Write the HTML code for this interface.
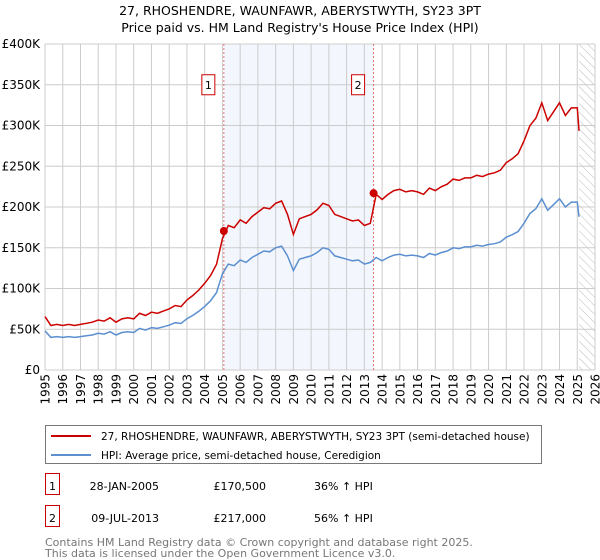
<!DOCTYPE html>
<html><head><meta charset="utf-8"><style>
body{margin:0;background:#fff;font-family:"DejaVu Sans","Liberation Sans",sans-serif;}
#wrap{position:relative;width:600px;height:560px;overflow:hidden}
</style></head><body><div id="wrap">
<svg id="svg" width="600" height="560" style="position:absolute;left:0;top:0"></svg>
</div>
<script>
const years=[1995,1996,1997,1998,1999,2000,2001,2002,2003,2004,2005,2006,2007,2008,2009,2010,2011,2012,2013,2014,2015,2016,2017,2018,2019,2020,2021,2022,2023,2024,2025,2026];
const yTicks=[0,50,100,150,200,250,300,350,400];
const hpiValues=[48,40,41,40,41,40,41,42,43,45,44,47,43,46,47,46,51,49,52,51,53,55,58,57,63,67,72,78,85,95,118,130,128,135,132,138,142,146,145,150,152,140,122,136,138,140,144,150,148,140,138,136,134,135,130,132,138,134,138,141,142,140,141,140,138,143,141,144,146,150,149,151,151,153,152,154,155,157,163,166,170,180,192,198,210,196,203,210,200,206,206,188];
const saleDates=[2005.08,2013.52];
const salePrices=[170.5,217];
const saleLabels=["1","2"];
const saleHpi=[125,139];
const NS="http://www.w3.org/2000/svg";
const svg=document.getElementById('svg');
const X0=45,X1=595,Y0=370,Y1=44;
const x=v=>X0+(v-1995)/(2026-1995)*(X1-X0);
const y=v=>Y0-v/400*(Y0-Y1);
function el(tag,attrs,parent){const e=document.createElementNS(NS,tag);for(const k in attrs)e.setAttribute(k,attrs[k]);(parent||svg).appendChild(e);return e;}
function txt(s,attrs){const e=el('text',attrs);e.textContent=s;return e;}
let t=txt("27, RHOSHENDRE, WAUNFAWR, ABERYSTWYTH, SY23 3PT",{x:300,y:15,'text-anchor':'middle','font-size':12.5});

t=txt("Price paid vs. HM Land Registry's House Price Index (HPI)",{x:300,y:32,'text-anchor':'middle','font-size':12.5});

let r=el('rect',{x:x(saleDates[0]),y:Y1,width:x(saleDates[1])-x(saleDates[0]),height:Y0-Y1,fill:'#eef3fc',opacity:0.7});

const defs=el('defs',{});const pat=el('pattern',{id:'h',width:6,height:6,patternUnits:'userSpaceOnUse',patternTransform:'rotate(-45)'},defs);
el('line',{x1:0,y1:0,x2:0,y2:6,stroke:'#bbb','stroke-width':1},pat);
r=el('rect',{x:x(2025.1),y:Y1,width:X1-x(2025.1),height:Y0-Y1,fill:'url(#h)'});

years.forEach(yr=>{const l=el('line',{x1:x(yr),x2:x(yr),y1:Y1,y2:Y0,stroke:'#ccc','stroke-width':1});

const tl=txt(String(yr),{x:0,y:0,'text-anchor':'end','font-size':12,transform:'translate('+(x(yr)+4.5)+',374) rotate(-90)'});
});
yTicks.forEach(v=>{const l=el('line',{x1:X0,x2:X1,y1:y(v),y2:y(v),stroke:'#ccc','stroke-width':1});

const tl=txt(v===0?'£0':'£'+v+'K',{x:40,y:y(v)+4,'text-anchor':'end','font-size':12});
});
saleDates.forEach((d,i)=>{const l=el('line',{x1:x(d),x2:x(d),y1:Y1,y2:Y0,stroke:'#e87070','stroke-width':1,'stroke-dasharray':'2,2'});

const bx=x(d)-15;const b=el('rect',{x:bx-7,y:y(350)-10,width:13,height:20,fill:'#fff',stroke:'#c00'});

const bt=txt(saleLabels[i],{x:bx-0.5,y:y(350)+4,'text-anchor':'middle','font-size':11});
});
const dates=hpiValues.map((v,i)=>i<91?1995+i/3:2025.1);
const hp=hpiValues.map((v,i)=>(i?'L':'M')+x(dates[i]).toFixed(1)+','+y(v).toFixed(1)).join('');
const redVals=hpiValues.map((v,i)=>dates[i]<saleDates[1]?v*salePrices[0]/saleHpi[0]:v*salePrices[1]/saleHpi[1]);
const rp=redVals.map((v,i)=>(i?'L':'M')+x(dates[i]).toFixed(1)+','+y(v).toFixed(1)).join('');
let p=el('path',{d:hp,fill:'none',stroke:'#5b8fd0','stroke-width':1.5});

p=el('path',{d:rp,fill:'none',stroke:'#cc0000','stroke-width':1.5});

saleDates.forEach((d,i)=>{const c=el('circle',{cx:x(d),cy:y(salePrices[i]),r:4,fill:'#cc0000'});
});
r=el('rect',{x:45.5,y:425.5,width:496,height:38,fill:'#fff',stroke:'#777'});

let l=el('line',{x1:51,x2:91,y1:436,y2:436,stroke:'#cc0000','stroke-width':2});

l=el('line',{x1:51,x2:91,y1:455,y2:455,stroke:'#5b8fd0','stroke-width':2});

t=txt("27, RHOSHENDRE, WAUNFAWR, ABERYSTWYTH, SY23 3PT (semi-detached house)",{x:101,y:440,'font-size':10.5});

t=txt("HPI: Average price, semi-detached house, Ceredigion",{x:101,y:459,'font-size':10.5});

const rows=[["1","28-JAN-2005","£170,500","36% ↑ HPI"],["2","09-JUL-2013","£217,000","56% ↑ HPI"]];
rows.forEach((rw,i)=>{const yy=486+i*32;
const b=el('rect',{x:45.5,y:yy-12.5,width:14,height:21,fill:'#fff',stroke:'#c00'});

let a=txt(rw[0],{x:52.5,y:yy+4,'text-anchor':'middle','font-size':11});
a=txt(rw[1],{x:159,y:yy+4,'text-anchor':'end','font-size':11});
a=txt(rw[2],{x:266,y:yy+4,'text-anchor':'end','font-size':11});
a=txt(rw[3],{x:314,y:yy+4,'font-size':11});});
t=txt("Contains HM Land Registry data © Crown copyright and database right 2025.",{x:45,y:546,'font-size':11,fill:'#777'});

t=txt("This data is licensed under the Open Government Licence v3.0.",{x:45,y:557,'font-size':11,fill:'#777'});

</script></body></html>
